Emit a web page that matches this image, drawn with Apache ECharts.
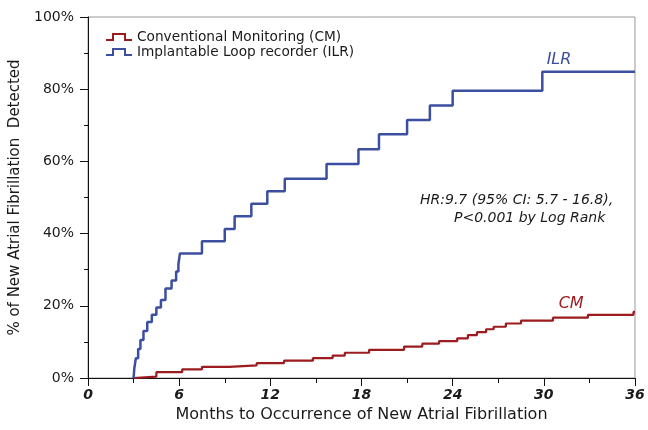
<!DOCTYPE html>
<html>
<head>
<meta charset="utf-8">
<script src="https://cdn.jsdelivr.net/npm/echarts@6/dist/echarts.min.js"></script>
<style>html,body{margin:0;padding:0;background:#fff}#c{width:648px;height:430px}</style>
</head>
<body>
<div id="c"></div>
<script>
// Data (month, cumulative % detected)
var ilrMonths = [3, 3.05, 3.15, 3.3, 3.45, 3.65, 3.9, 4.2, 4.5, 4.8, 5.1, 5.5, 5.8, 5.95, 6.05, 7.5, 9.0, 9.65, 10.75, 11.8, 12.95, 15.7, 17.8, 19.15, 21.0, 22.5, 24.0, 29.9, 36];
var ilrValues = [0, 2.7, 5.5, 8.0, 10.5, 13.0, 15.5, 17.5, 19.5, 21.6, 24.8, 27.0, 29.5, 31.5, 34.5, 37.9, 41.3, 44.8, 48.3, 51.7, 55.2, 59.3, 63.4, 67.5, 71.5, 75.5, 79.6, 84.8, 84.8];
var cmMonths = [3, 3.1, 4.5, 6.2, 7.5, 9.3, 11.1, 12.9, 14.8, 16.1, 16.9, 18.5, 20.8, 22.0, 23.1, 24.3, 25.0, 25.6, 26.2, 26.7, 27.5, 28.5, 30.6, 32.9, 35.9, 36];
var cmValues = [0, 0.4, 1.6, 2.4, 3.1, 3.5, 4.1, 4.8, 5.5, 6.2, 7.0, 7.8, 8.7, 9.5, 10.2, 11.0, 11.9, 12.7, 13.5, 14.2, 15.1, 15.9, 16.7, 17.5, 18.3, 18.3];
var seriesNames = ['Conventional Monitoring (CM)', 'Implantable Loop recorder (ILR)'];
var xTicks = [0, 6, 12, 18, 24, 30, 36];
var yTicks = [0, 20, 40, 60, 80, 100];
var annotation = ['HR:9.7 (95% CI: 5.7 - 16.8),', 'P<0.001 by Log Rank'];

function pairs(xs, ys) { return xs.map(function (x, i) { return [x, ys[i]]; }); }

var RED = '#9b1b1f', BLUE = '#3c4e9f';
var FONT = 'DejaVu Sans';
var stepIcon = 'path://M0,6 L6,6 L6,0 L20,0 L20,6 L26,6 L26,8 L18,8 L18,2 L8,2 L8,8 L0,8 Z';

var chart = echarts.init(document.getElementById('c'), null, {renderer: 'canvas'});
chart.setOption({
  animation: false,
  backgroundColor: '#fff',
  textStyle: {fontFamily: FONT},
  grid: {left: 88, right: 13, top: 17, bottom: 52, show: true, borderColor: '#999', borderWidth: 1},
  legend: {
    orient: 'vertical', left: 101, top: 25, itemWidth: 26, itemHeight: 8, itemGap: 1,
    data: [{name: seriesNames[0], icon: stepIcon}, {name: seriesNames[1], icon: stepIcon}],
    textStyle: {fontFamily: FONT, fontSize: 13.7, color: '#1a1a1a', fontWeight: 'normal'}
  },
  xAxis: {
    type: 'value', min: xTicks[0], max: xTicks[xTicks.length - 1], interval: 6,
    name: 'Months to Occurrence of New Atrial Fibrillation', nameLocation: 'middle', nameGap: 25,
    nameTextStyle: {fontSize: 16, color: '#1a1a1a', fontFamily: FONT},
    axisLine: {lineStyle: {color: '#111', width: 1}},
    axisTick: {show: true, length: 8, lineStyle: {color: '#111'}},
    minorTick: {show: true, splitNumber: 2, length: 5, lineStyle: {color: '#111'}},
    splitLine: {show: false},
    axisLabel: {fontSize: 14, fontWeight: 'bold', fontStyle: 'italic', color: '#1a1a1a', margin: 10, fontFamily: FONT}
  },
  yAxis: {
    type: 'value', min: yTicks[0], max: yTicks[yTicks.length - 1], interval: 20,
    name: '% of New Atrial Fibrillation  Detected', nameLocation: 'middle', nameGap: 59,
    nameTextStyle: {fontSize: 15, color: '#1a1a1a', fontFamily: FONT},
    axisLine: {show: true, lineStyle: {color: '#111', width: 1}},
    axisTick: {show: true, length: 8, lineStyle: {color: '#111'}},
    minorTick: {show: true, splitNumber: 2, length: 4, lineStyle: {color: '#111'}},
    splitLine: {show: false},
    axisLabel: {fontSize: 14, color: '#1a1a1a', margin: 14, formatter: '{value}%', fontFamily: FONT}
  },
  series: [
    {
      name: seriesNames[0], type: 'line', step: 'end', showSymbol: false, symbol: 'none',
      data: pairs(cmMonths, cmValues), z: 3,
      lineStyle: {color: RED, width: 2.2}, itemStyle: {color: RED},
      markPoint: {
        symbol: 'circle', symbolSize: 0,
        data: [{coord: [31.8, 20.6], value: 'CM'}],
        label: {show: true, formatter: 'CM', color: RED, fontSize: 16, fontStyle: 'italic', fontFamily: FONT}
      }
    },
    {
      name: seriesNames[1], type: 'line', step: 'end', showSymbol: false, symbol: 'none',
      data: pairs(ilrMonths, ilrValues), z: 4,
      lineStyle: {color: BLUE, width: 2.5}, itemStyle: {color: BLUE},
      markPoint: {
        symbol: 'circle', symbolSize: 0,
        data: [{coord: [31.0, 88.0], value: 'ILR'}],
        label: {show: true, formatter: 'ILR', color: BLUE, fontSize: 16, fontStyle: 'italic', fontFamily: FONT}
      }
    }
  ],
  graphic: [
    {type: 'text', left: 420, top: 193, style: {text: annotation[0], font: 'italic 14px "DejaVu Sans"', fill: '#1a1a1a'}},
    {type: 'text', left: 454, top: 211, style: {text: annotation[1], font: 'italic 14px "DejaVu Sans"', fill: '#1a1a1a'}}
  ]
});
</script>
</body>
</html>
